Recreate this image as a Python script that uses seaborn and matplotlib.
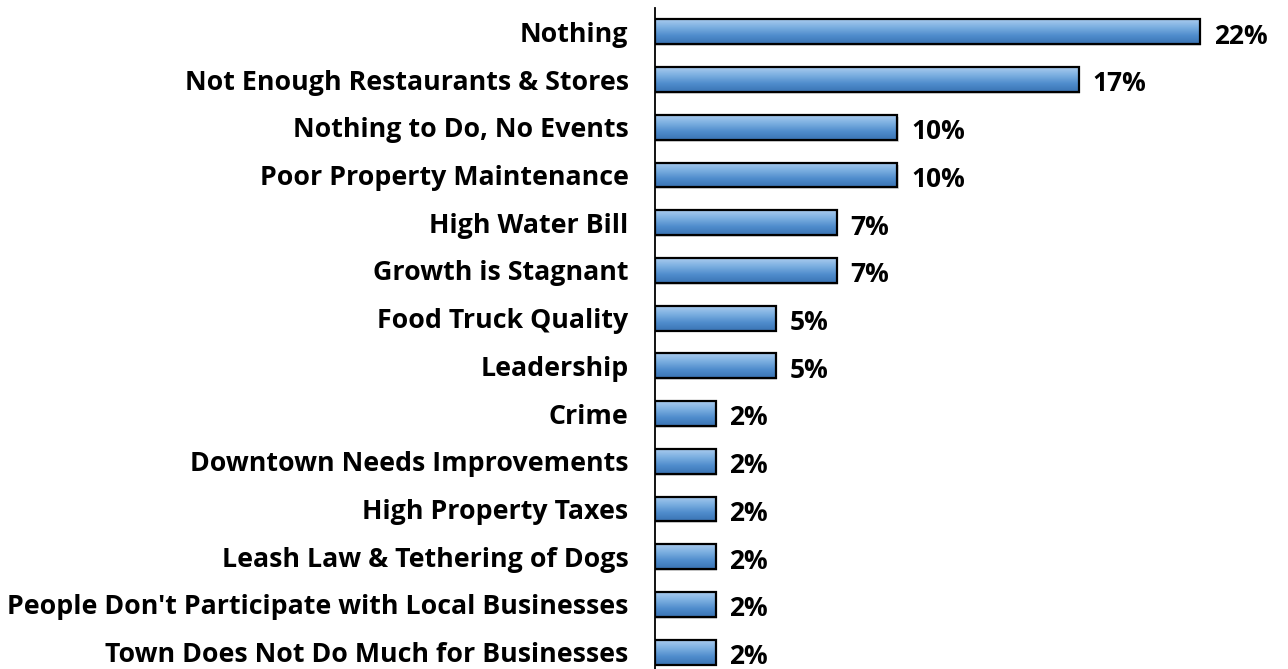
import numpy as np
import pandas as pd
import matplotlib
matplotlib.use("Agg")
import matplotlib.pyplot as plt
import seaborn as sns
from matplotlib.colors import LinearSegmentedColormap

# Share of respondents (%) naming each issue
categories = [
    "Nothing",
    "Not Enough Restaurants & Stores",
    "Nothing to Do, No Events",
    "Poor Property Maintenance",
    "High Water Bill",
    "Growth is Stagnant",
    "Food Truck Quality",
    "Leadership",
    "Crime",
    "Downtown Needs Improvements",
    "High Property Taxes",
    "Leash Law & Tethering of Dogs",
    "People Don't Participate with Local Businesses",
    "Town Does Not Do Much for Businesses",
]
values = [21.95, 17.07, 9.76, 9.76, 7.32, 7.32, 4.88, 4.88,
          2.44, 2.44, 2.44, 2.44, 2.44, 2.44]

df = pd.DataFrame({"issue": categories, "pct": values})

sns.set_theme(style="white")
plt.rcParams["font.family"] = ["Open Sans", "DejaVu Sans"]

W, H = 1288, 669
fig = plt.figure(figsize=(W / 100, H / 100), dpi=100)
ax = fig.add_axes([655 / W, -7 / H, 1 - 655 / W, 668 / H])

sns.barplot(data=df, y="issue", x="pct", orient="h", ax=ax,
            color="#5b9bd5", edgecolor="black", linewidth=1.6,
            width=0.52, saturation=1)

# Vertical gradient fill inside each bar
grad = LinearSegmentedColormap.from_list(
    "bargrad", ["#a9cbee", "#7aaee0", "#4f8ccc", "#3a74b4"])
gimg = np.linspace(0, 1, 64).reshape(-1, 1)
for bar in ax.patches:
    x0, y0 = bar.get_x(), bar.get_y()
    w, h = bar.get_width(), bar.get_height()
    # faint drop shadow
    shadow = plt.Rectangle((x0 + 0.05, y0 + 0.04), w, h, facecolor="#d9d9d9",
                           edgecolor="none", zorder=1.5)
    ax.add_patch(shadow)
    im = ax.imshow(gimg, cmap=grad, aspect="auto",
                   extent=(x0, x0 + w, y0 + h, y0), zorder=2,
                   interpolation="bicubic")
    im.set_clip_path(bar)
    bar.set_facecolor("none")
    bar.set_zorder(3)
ax.set_xlim(0, 25.5)
ax.set_ylim(len(categories) - 0.5, -0.5)

for i, v in enumerate(values):
    ax.annotate(f"{v:.0f}%", xy=(v, i), xytext=(10, -1),
                textcoords="offset points", va="center_baseline", ha="left",
                fontsize=19, fontweight="bold", color="black")

ax.set_xlabel("")
ax.set_ylabel("")
ax.set_xticks([])
ax.tick_params(axis="y", length=0, pad=19)
for lbl in ax.get_yticklabels():
    lbl.set_fontsize(19.3)
    lbl.set_fontweight("bold")
    lbl.set_color("black")

for side in ["top", "right", "bottom"]:
    ax.spines[side].set_visible(False)
ax.spines["left"].set_color("black")
ax.spines["left"].set_linewidth(1.3)

fig.savefig("out.png", dpi=100, facecolor="white")
